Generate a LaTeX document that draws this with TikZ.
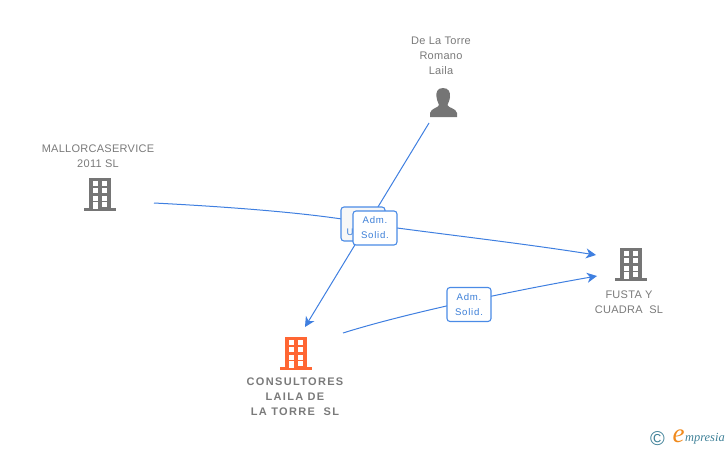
\documentclass[tikz,border=0pt]{standalone}
\usepackage{fontspec}
\setmainfont{Liberation Sans}
\newfontfamily\spaced[LetterSpace=2.5]{Liberation Sans}
\newfontfamily\spacedbold[LetterSpace=12]{Liberation Sans}
\newfontfamily\spacedbox[LetterSpace=8]{Liberation Sans}
\newfontfamily\logofont{Liberation Serif}
\newfontfamily\logosans{Liberation Sans}
\usetikzlibrary{arrows.meta}
\definecolor{linkblue}{HTML}{3F7FE0}
\definecolor{boxblue}{HTML}{4A8BE6}
\definecolor{textblue}{HTML}{3C7FD8}
\definecolor{icongray}{HTML}{757575}
\definecolor{labelgray}{HTML}{7A7A7A}
\definecolor{iconorange}{HTML}{FF6633}
\definecolor{logoteal}{HTML}{3F8198}
\definecolor{logoorange}{HTML}{F08A1D}
\tikzset{
  link/.style={draw=linkblue,line width=1pt,-{Stealth[length=10pt,width=10pt,inset=3pt]}},
  rolebox/.style={draw=boxblue,line width=1.1pt,fill=white,rounded corners=3pt,minimum width=44pt,minimum height=34pt,inner sep=0pt,align=center,text=textblue,font=\spacedbox\fontsize{9.6}{15}\selectfont},
  backbox/.style={rolebox,fill=gray!6},
  namelabel/.style={align=center,text=labelgray,font=\spaced\fontsize{11}{15}\selectfont,inner sep=0pt},
  boldlabel/.style={namelabel,font=\spacedbold\bfseries\fontsize{11}{15}\selectfont},
  iconspot/.style={minimum width=32pt,minimum height=34pt,inner sep=0pt}
}
% #1 centre x, #2 bottom y, #3 colour
\newcommand{\building}[3]{%
  \begin{scope}[shift={(#1,#2)}]
    \fill[#3] (-11,0) rectangle (11,-33);
    \fill[#3] (-16,0) rectangle (16,-3);
    \foreach \wy in {-30,-23,-15,-9}{
      \fill[white] (-7,\wy) rectangle (-2,\wy+4.5);
      \fill[white] (2,\wy) rectangle (7,\wy+4.5);
    }
    \fill[white] (-7,-9) rectangle (-2,-2);
  \end{scope}}
\begin{document}
\begin{tikzpicture}[x=1pt,y=-1pt]
\useasboundingbox (0,0) rectangle (728,450);
% icon anchors
\node[iconspot] (mallorca) at (100,194) {};
\node[iconspot] (fusta) at (631,264) {};
\node[iconspot] (consult) at (296,353) {};
\node[iconspot] (person) at (443,102) {};
% free ends
\coordinate (a1) at (154,203);
\coordinate (a2) at (596,255);
\coordinate (b1) at (429,123);
\coordinate (b2) at (305,327);
\coordinate (c1) at (343,333);
\coordinate (c2) at (597,276);
% connectors
\draw[link] (a1) .. controls (270,209) and (340,217) .. (375,225) .. controls (440,234) and (520,243) .. (a2);
\draw[link] (b1) -- (b2);
\draw[link] (c1) .. controls (400,315) and (500,293) .. (c2);
% boxes
\node[backbox] (hidden) at (363,224) {};
\node[text=textblue,font=\fontsize{9.6}{11}\selectfont,inner sep=0pt] (hiddentext) at (350,232) {U};
\node[rolebox] (role1) at (375,228) {Adm.\\Solid.};
\node[rolebox] (role2) at (469,304.5) {Adm.\\Solid.};
% icons
\building{100}{211}{icongray}
\building{631}{281}{icongray}
\building{296}{370}{iconorange}
\fill[icongray] (443,88) .. controls (437.5,88) and (435.8,92) .. (436.5,97)
  .. controls (437,101) and (438.5,103) .. (439,105)
  .. controls (438.5,108) and (431,108) .. (430,113) -- (430,117) -- (457,117) -- (457,113)
  .. controls (456,108) and (448,108) .. (447.5,105)
  .. controls (448,103) and (449.5,101) .. (450,97)
  .. controls (450.5,92) and (448.5,88) .. (443,88) -- cycle;
% labels
\node[namelabel] (lperson) at (441,55.5) {De La Torre\\Romano\\Laila};
\node[namelabel] (lmallorca) at (98,156) {MALLORCASERVICE\\2011 SL};
\node[namelabel] (lfusta) at (629,302) {FUSTA Y\\CUADRA~~SL};
\node[boldlabel] (lconsult) at (295,396.5) {CONSULTORES\\LAILA DE\\LA TORRE~~SL};
% logo
\node[text=logoteal,font=\logosans\fontsize{20}{20}\selectfont,inner sep=0pt] (copyr) at (657.5,438.5) {©};
\node[text=logoorange,font=\logofont\itshape\fontsize{27}{27}\selectfont,inner sep=0pt] (logoe) at (678.5,436) {e};
\node[text=logoteal,font=\logofont\itshape\fontsize{12.4}{14}\selectfont,inner sep=0pt,anchor=west] (logot) at (685,439) {mpresia};
\end{tikzpicture}
\end{document}
